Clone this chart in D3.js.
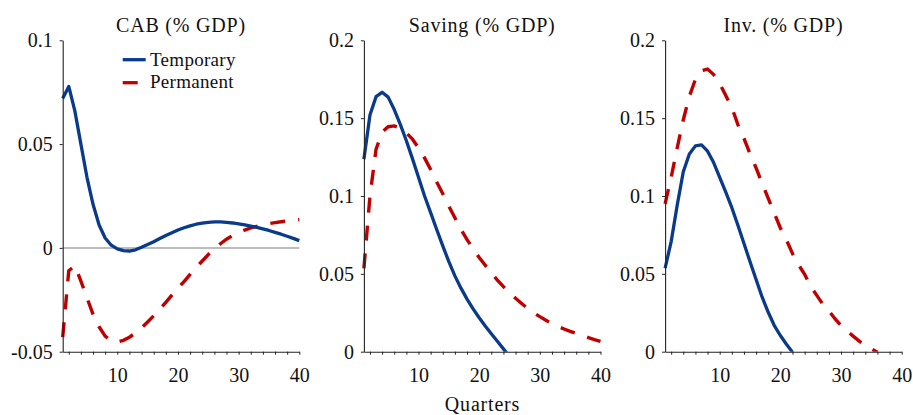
<!DOCTYPE html>
<html>
<head>
<meta charset="utf-8">
<script src="https://cdn.jsdelivr.net/npm/d3@7"></script>
<style>
  body { margin: 0; background: #fff; }
  svg text { font-family: "Liberation Serif", "Times New Roman", serif; fill: #111; }
</style>
</head>
<body>
<svg id="chart" width="913" height="415"></svg>
<script>
// quarters after the shock
var quarters = d3.range(1, 41);

var cabTemporary = [0.072, 0.0778, 0.066, 0.050, 0.034, 0.021, 0.011, 0.0048, 0.0013, -0.0005,
  -0.0013, -0.0015, -0.0009, 0.0003, 0.0016, 0.003, 0.0045, 0.006, 0.0073, 0.0086,
  0.0097, 0.0106, 0.0114, 0.0119, 0.0123, 0.0125, 0.0125, 0.0123, 0.012, 0.0116,
  0.0111, 0.0105, 0.0099, 0.0092, 0.0084, 0.0075, 0.0066, 0.0056, 0.0046, 0.0035];
var cabPermanent = [-0.043, -0.011, -0.0085, -0.016, -0.024, -0.032, -0.038, -0.0425, -0.0448, -0.0453,
  -0.0445, -0.043, -0.041, -0.0385, -0.0357, -0.0327, -0.0295, -0.0262, -0.0228, -0.0195,
  -0.0162, -0.0128, -0.0095, -0.0063, -0.0032, -0.0004, 0.002, 0.0042, 0.006, 0.0074,
  0.0086, 0.0096, 0.0104, 0.0111, 0.0117, 0.0122, 0.0126, 0.013, 0.0133, 0.0136];

var savingTemporary = [0.1236, 0.152, 0.1638, 0.1666, 0.1635, 0.1555, 0.146, 0.1355, 0.124, 0.112,
  0.1, 0.0893, 0.0785, 0.068, 0.0578, 0.0487, 0.0408, 0.0338, 0.0275, 0.0218,
  0.0165, 0.0115, 0.0067, 0.0018, -0.003];
var savingPermanent = [0.0535, 0.100, 0.130, 0.141, 0.1445, 0.145, 0.1435, 0.1405, 0.1365, 0.131,
  0.1245, 0.117, 0.109, 0.1015, 0.0935, 0.086, 0.0785, 0.072, 0.0662, 0.0605,
  0.0555, 0.0505, 0.046, 0.0418, 0.038, 0.0343, 0.031, 0.0278, 0.025, 0.0225,
  0.0202, 0.0181, 0.0162, 0.0146, 0.0131, 0.0117, 0.0104, 0.0091, 0.0078, 0.0066];

var invTemporary = [0.0536, 0.0707, 0.0942, 0.1156, 0.127, 0.1322, 0.1328, 0.1288, 0.1215, 0.112,
  0.1025, 0.0925, 0.0812, 0.0695, 0.0578, 0.0464, 0.035, 0.0253, 0.0168, 0.0104,
  0.0048, -0.0003];
var invPermanent = [0.095, 0.112, 0.131, 0.149, 0.164, 0.175, 0.1805, 0.1815, 0.178, 0.1722,
  0.1645, 0.1568, 0.1458, 0.137, 0.127, 0.118, 0.108, 0.0985, 0.089, 0.0795,
  0.0718, 0.063, 0.0558, 0.0497, 0.0419, 0.0362, 0.0305, 0.0262, 0.0212, 0.0168,
  0.0133, 0.010, 0.0068, 0.0041, 0.0018, -0.0003];

var panelTitles = ["CAB (% GDP)", "Saving (% GDP)", "Inv. (% GDP)"];
var yDomains = [[-0.05, 0.1], [0, 0.2], [0, 0.2]];
var yTicks = [[-0.05, 0, 0.05, 0.1], [0, 0.05, 0.1, 0.15, 0.2], [0, 0.05, 0.1, 0.15, 0.2]];
var yTickLabels = [["-0.05", "0", "0.05", "0.1"], ["0", "0.05", "0.1", "0.15", "0.2"], ["0", "0.05", "0.1", "0.15", "0.2"]];
var xTickLabels = [10, 20, 30, 40];
var seriesNames = ["Temporary", "Permanent"];
var panelData = [
  [cabTemporary, cabPermanent],
  [savingTemporary, savingPermanent],
  [invTemporary, invPermanent]
];

var blue = "#0a3a8a", red = "#c00000";
var left0 = 62.7, panelWidth = 236.6, panelStep = 301.2;
var plotTop = 40.3, plotBottom = 351.7;

var svg = d3.select("#chart");

panelData.forEach(function (series, p) {
  var x0 = left0 + p * panelStep;
  var x = d3.scaleLinear().domain([1, 40]).range([x0, x0 + panelWidth]);
  var y = d3.scaleLinear().domain(yDomains[p]).range([plotBottom, plotTop]);
  var g = svg.append("g");

  g.append("clipPath").attr("id", "clip" + p)
    .append("rect")
    .attr("x", x0 - 3).attr("y", plotTop - 10)
    .attr("width", panelWidth + 6).attr("height", plotBottom - plotTop + 10);

  // zero line on the CAB panel
  if (yDomains[p][0] < 0) {
    g.append("line")
      .attr("x1", x(1)).attr("x2", x(40))
      .attr("y1", y(0)).attr("y2", y(0))
      .attr("stroke", "#a6a6a6").attr("stroke-width", 1.5);
  }

  var line = d3.line()
    .x(function (d, i) { return x(quarters[i]); })
    .y(function (d) { return y(d); });

  g.append("path")
    .datum(series[1])
    .attr("clip-path", "url(#clip" + p + ")")
    .attr("d", line)
    .attr("fill", "none")
    .attr("stroke", red)
    .attr("stroke-width", 3.4)
    .attr("stroke-dasharray", "15,13");

  g.append("path")
    .datum(series[0])
    .attr("clip-path", "url(#clip" + p + ")")
    .attr("d", line)
    .attr("fill", "none")
    .attr("stroke", blue)
    .attr("stroke-width", 3.3)
    .attr("stroke-linejoin", "round");

  var yAxis = g.append("g")
    .attr("transform", "translate(" + x0 + ",0)")
    .call(d3.axisLeft(y).tickValues(yTicks[p]).tickSize(3).tickSizeOuter(0).tickPadding(7)
      .tickFormat(function (d, i) { return yTickLabels[p][i]; }));

  var xAxis = g.append("g")
    .attr("transform", "translate(0," + plotBottom + ")")
    .call(d3.axisBottom(x).tickValues(d3.range(2, 41, 2)).tickSize(3).tickSizeOuter(0).tickPadding(13)
      .tickFormat(function (d) { return xTickLabels.indexOf(d) >= 0 ? d : ""; }));

  [yAxis, xAxis].forEach(function (ax) {
    ax.select(".domain").attr("stroke", "#222").attr("stroke-width", 1.1);
    ax.selectAll(".tick line").attr("stroke", "#222");
    ax.selectAll("text")
      .style("font-family", "'Liberation Serif', serif")
      .style("font-size", "20px")
      .attr("fill", "#111");
  });

  g.append("text")
    .attr("x", x0 + panelWidth / 2)
    .attr("y", 31.5)
    .attr("text-anchor", "middle")
    .style("font-size", "20px")
    .style("letter-spacing", "0.8px")
    .text(panelTitles[p]);

  // legend only in the first panel
  if (p === 0) {
    var legend = g.append("g");
    [blue, red].forEach(function (c, i) {
      legend.append("line")
        .attr("x1", 122.7).attr("x2", 145.7)
        .attr("y1", 59.7 + i * 23).attr("y2", 59.7 + i * 23)
        .attr("stroke", c).attr("stroke-width", 3.3)
        .attr("stroke-dasharray", i === 1 ? "15,13" : null);
      legend.append("text")
        .attr("x", 150).attr("y", 65.5 + i * 22)
        .style("font-size", "19px")
        .style("letter-spacing", "0.3px")
        .text(seriesNames[i]);
    });
  }
});

svg.append("text")
  .attr("x", 482.5)
  .attr("y", 411)
  .attr("text-anchor", "middle")
  .style("font-size", "20px")
  .style("letter-spacing", "0.8px")
  .text("Quarters");
</script>
</body>
</html>
